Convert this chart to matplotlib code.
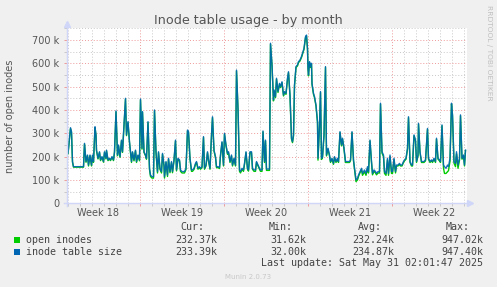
import matplotlib
matplotlib.use('Agg')
import matplotlib.pyplot as plt
from matplotlib.lines import Line2D
from matplotlib.patches import Rectangle
from matplotlib.transforms import blended_transform_factory

# ---------------- data (x in hours since graph start, values in thousands) -------------
hours = [0, 2, 7, 9, 11, 13, 33, 35, 38, 41, 43, 46, 49, 51, 53, 56, 58, 59, 62, 65, 67, 70, 73, 75, 78, 79,
         82, 85, 87, 90, 93, 95, 98, 101, 103, 106, 109, 111, 114, 117, 119, 122, 125, 127, 129, 131, 134, 137,
         139, 142, 145, 147, 150, 151, 154, 157, 159, 162, 165, 167, 170, 173, 175, 178, 181, 183, 186, 189, 191,
         194, 195, 198, 201, 203, 206, 209, 211, 214, 217, 219, 222, 225, 227, 230, 233, 235, 238, 241, 243, 246,
         249, 251, 254, 257, 259, 262, 265, 267, 270, 273, 275, 278, 281, 283, 286, 289, 291, 294, 297, 299, 302,
         305, 307, 310, 313, 315, 318, 321, 323, 326, 329, 331, 334, 337, 339, 342, 345, 347, 350, 353, 355, 358,
         361, 363, 366, 369, 371, 374, 377, 379, 382, 385, 387, 390, 392, 395, 397, 399, 402, 405, 407, 410, 413,
         414, 417, 419, 422, 425, 427, 430, 433, 435, 438, 441, 443, 446, 449, 451, 453, 455, 458, 461, 463, 466,
         469, 471, 474, 477, 479, 481, 482, 483, 485, 487, 489, 490, 493, 495, 498, 501, 502, 505, 507, 509, 511,
         514, 517, 519, 522, 525, 527, 530, 533, 535, 538, 541, 543, 546, 549, 551, 554, 557, 559, 562, 565, 567,
         570, 573, 575, 578, 581, 583, 586, 589, 591, 593, 595, 598, 601, 603, 606, 609, 611, 614, 617, 619, 622,
         625, 627, 630, 633, 635, 638, 641, 643, 646, 649, 651, 654, 657, 659, 662, 665, 667, 670, 673, 675, 678,
         681, 683, 686, 689, 691, 694, 697, 699, 702, 703, 706, 709, 711, 714, 717, 721, 723, 726, 729, 731, 734,
         737, 739, 742, 745, 747, 750, 753, 755, 758, 761, 763, 766, 769, 771, 774, 777, 779, 782, 785, 787, 790,
         793, 795, 797]

inode_table_size_k = [
    214, 214, 324, 307, 179, 157, 157, 257, 179, 207, 164, 207, 164, 207, 179, 328, 293, 228, 193, 221, 186, 200,
    179, 221, 193, 228, 186, 193, 186, 200, 186, 221, 396, 207, 250, 200, 271, 221, 336, 450, 293, 350, 264, 221,
    179, 221, 186, 228, 179, 207, 186, 447, 236, 393, 221, 207, 193, 350, 150, 121, 114, 114, 400, 221, 136, 221,
    150, 136, 214, 164, 114, 179, 121, 193, 136, 179, 136, 186, 271, 143, 193, 186, 143, 136, 136, 136, 150, 314,
    307, 193, 143, 143, 150, 171, 179, 150, 157, 150, 157, 286, 150, 164, 221, 186, 150, 293, 371, 228, 200, 157,
    157, 153, 207, 264, 164, 300, 250, 214, 221, 179, 207, 164, 193, 164, 571, 407, 143, 136, 150, 143, 171, 221,
    150, 143, 221, 221, 150, 143, 143, 179, 164, 150, 143, 143, 310, 179, 271, 147, 147, 147, 686, 593, 443, 486,
    457, 536, 479, 514, 500, 521, 464, 479, 471, 536, 564, 464, 279, 264, 293, 507, 586, 593, 607, 614, 629, 643,
    664, 714, 721, 664, 579, 550, 607, 586, 600, 514, 471, 457, 421, 350, 193, 336, 479, 193, 200, 293, 586, 207,
    236, 207, 179, 193, 171, 200, 179, 193, 179, 307, 250, 279, 236, 179, 179, 179, 179, 186, 307, 186, 150, 100,
    107, 121, 136, 150, 128, 136, 143, 128, 157, 136, 271, 179, 128, 143, 136, 128, 136, 136, 429, 221, 207, 136,
    128, 193, 128, 207, 136, 136, 193, 136, 164, 164, 171, 164, 164, 179, 186, 193, 236, 371, 179, 164, 164, 293,
    271, 179, 207, 343, 221, 179, 179, 179, 186, 321, 193, 179, 186, 179, 193, 179, 279, 193, 186, 179, 336, 164,
    157, 150, 164, 157, 193, 429, 379, 179, 171, 221, 164, 193, 379, 193, 207, 164, 228]

open_inodes_k = [
    211, 211, 320, 303, 176, 155, 155, 254, 176, 204, 160, 204, 160, 204, 176, 324, 290, 225, 190, 218, 183, 197,
    176, 218, 190, 225, 183, 190, 183, 197, 183, 218, 392, 204, 247, 197, 268, 218, 332, 446, 290, 346, 260, 218,
    175, 218, 182, 225, 175, 204, 182, 443, 232, 390, 218, 204, 189, 346, 145, 115, 108, 108, 396, 217, 130, 217,
    145, 130, 210, 159, 108, 175, 115, 189, 131, 175, 131, 182, 267, 139, 189, 182, 137, 130, 130, 130, 145, 310,
    303, 189, 137, 137, 145, 167, 175, 146, 153, 146, 153, 282, 146, 160, 217, 182, 146, 289, 367, 224, 196, 153,
    153, 149, 203, 260, 160, 296, 246, 210, 217, 175, 203, 160, 189, 160, 567, 403, 137, 130, 145, 137, 167, 217,
    146, 138, 217, 217, 146, 137, 137, 175, 160, 146, 137, 137, 306, 175, 267, 141, 141, 141, 682, 589, 439, 482,
    453, 532, 475, 510, 496, 517, 460, 475, 467, 532, 560, 460, 275, 260, 289, 503, 582, 589, 603, 610, 625, 639,
    660, 710, 717, 660, 575, 546, 603, 582, 596, 510, 467, 453, 417, 346, 185, 332, 475, 188, 196, 289, 582, 203,
    232, 203, 175, 189, 167, 196, 175, 189, 175, 303, 246, 275, 232, 175, 175, 175, 175, 182, 303, 182, 145, 93,
    100, 115, 131, 145, 120, 128, 135, 120, 150, 130, 267, 175, 122, 137, 130, 122, 130, 130, 425, 215, 200, 128,
    120, 186, 120, 200, 128, 128, 187, 130, 160, 160, 167, 160, 160, 175, 182, 189, 232, 367, 175, 160, 160, 289,
    267, 175, 203, 339, 217, 175, 175, 175, 182, 317, 189, 175, 182, 175, 189, 175, 275, 189, 182, 175, 332, 150,
    128, 128, 135, 140, 180, 425, 375, 172, 157, 212, 150, 185, 375, 189, 203, 160, 226]

series_names = ['open inodes', 'inode table size']
series_colors = ['#00CC00', '#0066B3']
cur_vals = ['232.37k', '233.39k']
min_vals = ['31.62k', '32.00k']
avg_vals = ['232.24k', '234.87k']
max_vals = ['947.02k', '947.40k']

y_major_k = [0, 100, 200, 300, 400, 500, 600, 700]
y_major_labels = ['0', '100 k', '200 k', '300 k', '400 k', '500 k', '600 k', '700 k']
week_labels = ['Week 18', 'Week 19', 'Week 20', 'Week 21', 'Week 22']
week_bounds_h = [146.6, 314.6, 482.6, 650.6]

title = 'Inode table usage - by month'
ylabel = 'number of open inodes'
last_update = 'Last update: Sat May 31 02:01:47 2025'

# ---------------- layout ----------------
W, H = 497, 287
def fx(px):
    return px / W
def fy(py):
    return 1 - py / H

TXT = '#555555'
fig = plt.figure(figsize=(W / 100, H / 100), dpi=100, facecolor='#F0F0F0')
ax = fig.add_axes([fx(67), fy(203.3), 400 / W, 175 / H])
ax.set_facecolor('white')
for s in ax.spines.values():
    s.set_visible(False)

ax.set_xlim(0, 800)
ax.set_ylim(0, 750)

# grid
ax.set_yticks(y_major_k)
ax.set_yticklabels(y_major_labels)
ax.set_yticks([v + 50 for v in y_major_k] , minor=True)
day_lines = [2.6 + 24 * k for k in range(34)]
ax.set_xticks(week_bounds_h)
ax.set_xticklabels([])
ax.set_xticks(day_lines, minor=True)
ax.grid(which='minor', color='#C8C8C8', linestyle=(0, (1, 2)), linewidth=0.7)
ax.grid(which='major', color='#EE9A9A', linestyle=(0, (1, 2)), linewidth=0.7)
ax.tick_params(which='major', length=2.5, width=0.7, color='#EE9A9A', direction='out',
               labelsize=7, labelcolor=TXT, pad=3)
ax.tick_params(which='minor', length=2, width=0.7, color='#C8C8C8', direction='out')
ax.set_axisbelow(True)

# data lines
ax.plot(hours, open_inodes_k, color=series_colors[0], lw=1.0, zorder=3)
ax.plot(hours, inode_table_size_k, color=series_colors[1], lw=1.0, alpha=0.9, zorder=4)

# week labels
tr = blended_transform_factory(ax.transData, fig.transFigure)
for i, lab in enumerate(week_labels):
    xc = week_bounds_h[0] - 84 + 168 * i
    ax.text(xc, fy(212.5), lab, transform=tr, ha='center', va='center', fontsize=7, color=TXT)

# axis lines with arrows
AX = '#CFD6F8'
fig.add_artist(Line2D([fx(67), fx(67)], [fy(206), fy(25)], color=AX, lw=1))
fig.add_artist(Line2D([fx(67)], [fy(24)], marker='^', markersize=4, color=AX, lw=0))
fig.add_artist(Line2D([fx(64), fx(468)], [fy(203.3), fy(203.3)], color=AX, lw=1))
fig.add_artist(Line2D([fx(470)], [fy(203.3)], marker='>', markersize=4, color=AX, lw=0))

# titles
fig.text(fx(248), fy(24), title, ha='center', va='baseline', fontsize=9.2, color=TXT)
fig.text(fx(10), fy(116), ylabel, ha='center', va='center', rotation=90, fontsize=7, color=TXT)
fig.text(fx(489), fy(5), 'RRDTOOL / TOBI OETIKER', ha='center', va='top', rotation=270,
         fontsize=5.4, color='#C0C0C0')
fig.text(fx(248), fy(277), 'Munin 2.0.73', ha='center', va='center', fontsize=5, color='#C8C8C8')

# legend
MONO = dict(family='DejaVu Sans Mono', fontsize=7.2, color='#444444')
for name, x in zip(['Cur:', 'Min:', 'Avg:', 'Max:'], [204, 293, 382, 470]):
    fig.text(fx(x), fy(227.5), name, ha='right', va='center', **MONO)
rows_y = [240, 252]
for i in range(2):
    y = rows_y[i]
    fig.add_artist(Rectangle((fx(14), fy(y + 2.5)), 5.5 / W, 5.5 / H, facecolor=series_colors[i],
                             edgecolor='none', transform=fig.transFigure))
    fig.text(fx(26), fy(y), series_names[i], ha='left', va='center', **MONO)
    for vals, x in zip([cur_vals, min_vals, avg_vals, max_vals], [217, 306, 394, 483]):
        fig.text(fx(x), fy(y), vals[i], ha='right', va='center', **MONO)
fig.text(fx(483), fy(263), last_update, ha='right', va='center', **MONO)

fig.savefig('out.png', dpi=100, facecolor=fig.get_facecolor())
